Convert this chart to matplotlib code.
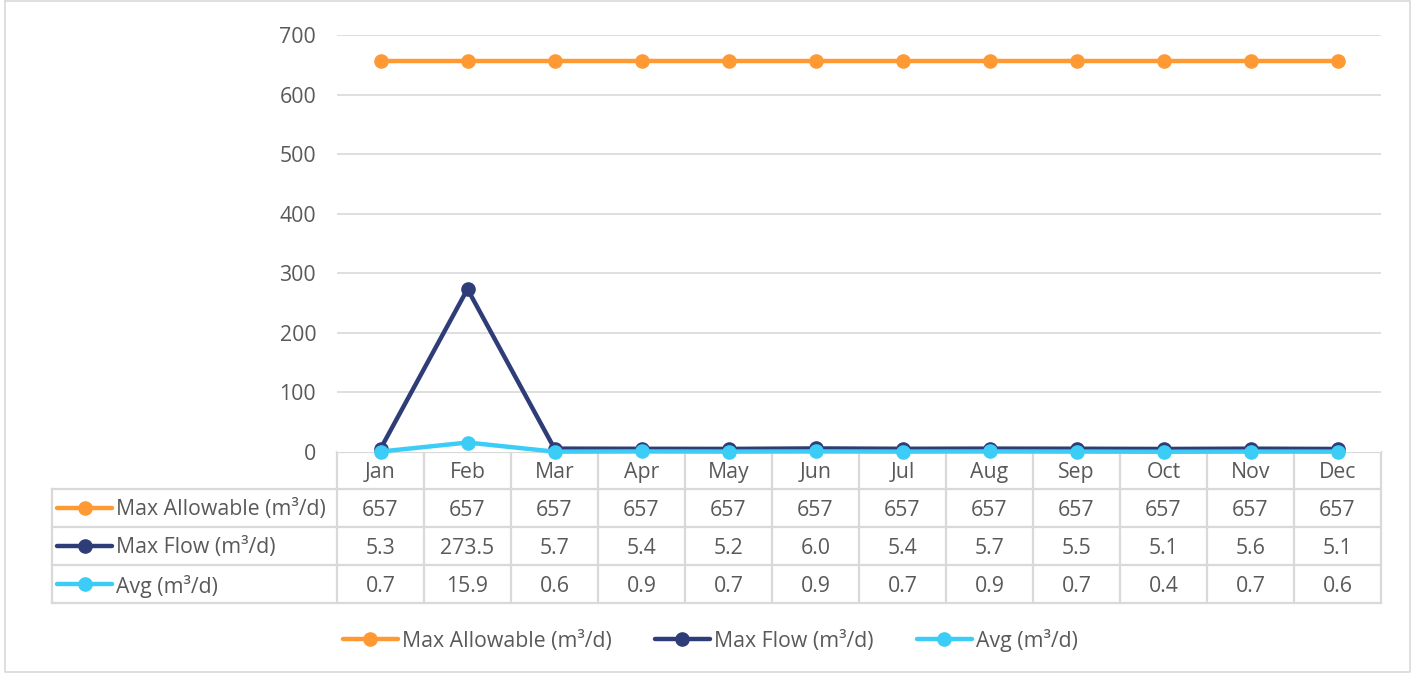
import matplotlib
matplotlib.use("Agg")
import matplotlib.pyplot as plt

months = ["Jan", "Feb", "Mar", "Apr", "May", "Jun", "Jul", "Aug", "Sep", "Oct", "Nov", "Dec"]
max_allowable = [657, 657, 657, 657, 657, 657, 657, 657, 657, 657, 657, 657]
max_flow = [5.3, 273.5, 5.7, 5.4, 5.2, 6.0, 5.4, 5.7, 5.5, 5.1, 5.6, 5.1]
avg_flow = [0.7, 15.9, 0.6, 0.9, 0.7, 0.9, 0.7, 0.9, 0.7, 0.4, 0.7, 0.6]
series_names = ["Max Allowable (m³/d)", "Max Flow (m³/d)", "Avg (m³/d)"]
series_labels = [[f"{v:.0f}" for v in max_allowable],
                 [f"{v:.1f}" for v in max_flow],
                 [f"{v:.1f}" for v in avg_flow]]
yticks = [0, 100, 200, 300, 400, 500, 600, 700]

colors = ["#FF9933", "#2E3D78", "#3CCDF7"]
TXT = "#595959"
GRID = "#D9D9D9"
FONT = ["Open Sans", "DejaVu Sans"]
FS = 15.3
plt.rcParams['font.family'] = FONT

W, H = 1413, 675
fig = plt.figure(figsize=(W / 100, H / 100), dpi=100)

L, R, T, B = 337, 1381, 35, 452
ax = fig.add_axes([L / W, 1 - B / H, (R - L) / W, (B - T) / H])
ax.set_xlim(-0.5, 11.5)
ax.set_ylim(0, 700)
for s in ax.spines.values():
    s.set_visible(False)
ax.set_yticks(yticks)
ax.set_yticklabels([str(v) for v in yticks])
ax.tick_params(axis='y', length=0, pad=15, labelsize=FS, labelcolor=TXT)
ax.tick_params(axis='x', length=0, labelbottom=False)
ax.set_xticks([])
for v in yticks[1:]:
    ax.axhline(v, color=GRID, lw=1.2, zorder=0)

x = list(range(12))
for vals, c, n in zip([max_allowable, max_flow, avg_flow], colors, series_names):
    ax.plot(x, vals, color=c, lw=3.2, marker='o', markersize=9.5, label=n,
            solid_capstyle='round', zorder=3, clip_on=False)

# overlay in pixel coordinates for table
ov = fig.add_axes([0, 0, 1, 1], zorder=-1)
ov.set_xlim(0, W)
ov.set_ylim(H, 0)
ov.axis('off')

colw = (R - L) / 12
rows = [452, 489, 527, 565, 603]
lc = "#D9D9D9"
lw = 1.6
dy = 2
ov.plot([L, R], [rows[0], rows[0]], color=lc, lw=lw)
for yy in rows[1:]:
    ov.plot([52, R], [yy, yy], color=lc, lw=lw)
for k in range(13):
    xx = L + k * colw
    ov.plot([xx, xx], [rows[0], rows[-1]], color=lc, lw=lw)
ov.plot([52, 52], [rows[1], rows[-1]], color=lc, lw=lw)

for i, m in enumerate(months):
    cx = L + (i + 0.5) * colw
    ov.text(cx, (rows[0] + rows[1]) / 2 + dy, m, ha='center', va='center', fontsize=FS, color=TXT)
    for r in range(3):
        cy = (rows[r + 1] + rows[r + 2]) / 2 + dy
        ov.text(cx, cy, series_labels[r][i], ha='center', va='center', fontsize=FS, color=TXT)

for r in range(3):
    cy = (rows[r + 1] + rows[r + 2]) / 2
    ov.plot([57, 112], [cy, cy], color=colors[r], lw=3.2, solid_capstyle='round')
    ov.plot([85], [cy], marker='o', color=colors[r], markersize=9.5)
    ov.text(116, cy + dy, series_names[r], ha='left', va='center', fontsize=FS, color=TXT)

leg_y = 639
leg_x = [343, 655, 917]
for r in range(3):
    x0 = leg_x[r]
    ov.plot([x0, x0 + 55], [leg_y, leg_y], color=colors[r], lw=3.2, solid_capstyle='round')
    ov.plot([x0 + 27], [leg_y], marker='o', color=colors[r], markersize=9.5)
    ov.text(x0 + 59, leg_y + dy, series_names[r], ha='left', va='center', fontsize=FS, color=TXT)

ov.plot([5, 5, 1410, 1410, 5], [1, 672, 672, 1, 1], color=lc, lw=1.2)

fig.savefig("out.png", dpi=100)
